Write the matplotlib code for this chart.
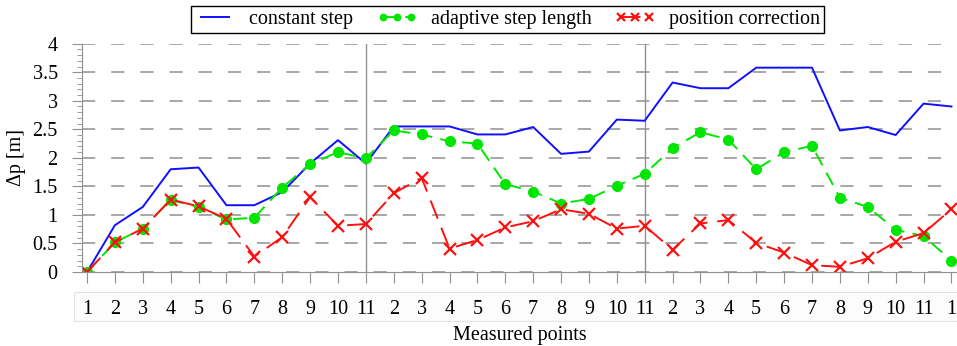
import matplotlib.pyplot as plt
import numpy as np
from matplotlib.patches import Rectangle
from matplotlib.ticker import MultipleLocator

point_labels = ([str(i) for i in range(1, 12)] + [str(i) for i in range(2, 12)]
                + [str(i) for i in range(2, 12)] + ["1"])

constant_step = [0.0, 0.82, 1.14, 1.80, 1.83, 1.17, 1.17, 1.40, 1.90, 2.31, 1.90,
                 2.55, 2.55, 2.55, 2.41, 2.41, 2.54, 2.07, 2.11, 2.67, 2.65,
                 3.32, 3.22, 3.22, 3.58, 3.58, 3.58, 2.48, 2.54, 2.40, 2.95, 2.90]

adaptive_step = [0.0, 0.52, 0.76, 1.26, 1.14, 0.92, 0.95, 1.48, 1.89, 2.10, 1.99,
                 2.48, 2.41, 2.29, 2.25, 1.54, 1.41, 1.20, 1.28, 1.51, 1.72,
                 2.17, 2.45, 2.32, 1.80, 2.10, 2.21, 1.30, 1.14, 0.74, 0.63, 0.20]

position_corr = [0.0, 0.52, 0.76, 1.27, 1.15, 0.93, 0.27, 0.61, 1.31, 0.81, 0.84,
                 1.38, 1.65, 0.41, 0.56, 0.78, 0.89, 1.10, 1.02, 0.76, 0.81,
                 0.39, 0.85, 0.91, 0.51, 0.34, 0.12, 0.09, 0.24, 0.53, 0.68, 1.10]

separators = [10, 20]

plt.rcParams["font.family"] = ["Liberation Serif", "DejaVu Serif"]
plt.rcParams["font.size"] = 14.5
plt.rcParams["lines.scale_dashes"] = False

x = np.arange(len(point_labels))

fig = plt.figure(figsize=(9.57, 3.46), dpi=100)
ax = fig.add_axes([0.0857, 0.2139, 0.9143, 0.6598])

ax.plot(x, constant_step, color="#1010ff", lw=1.4, label="constant step")
ax.plot(x, adaptive_step, color="#00e600", lw=1.4, linestyle=(0, (10, 6)),
        marker="o", ms=7, label="adaptive step length")
ax.plot(x, position_corr, color="#ff1010", lw=1.4, linestyle=(0, (14, 7)),
        marker="x", ms=8, mew=1.6, label="position correction")

for s in separators:
    ax.axvline(s, color="#909090", lw=1.0, zorder=1)

ax.set_xlim(-0.18, 31.2)
ax.set_ylim(0, 4)
ax.set_xticks(x)
ax.set_xticklabels(point_labels)
ax.set_yticks(np.arange(0, 4.01, 0.5))
ax.set_yticklabels(["0", "0.5", "1", "1.5", "2", "2.5", "3", "3.5", "4"])
ax.yaxis.set_minor_locator(MultipleLocator(0.1))

ax.yaxis.grid(True, color="#a0a0a0", lw=1.3, linestyle=(0, (9.5, 11.5)))
ax.set_axisbelow(True)

for side in ["top", "right"]:
    ax.spines[side].set_visible(False)
ax.spines["left"].set_color("#909090")
ax.spines["bottom"].set_color("#909090")

ax.tick_params(axis="y", which="major", direction="out", length=7.5,
               color="#909090", pad=10)
ax.tick_params(axis="y", which="minor", direction="out", length=3.5,
               color="#909090")
ax.tick_params(axis="x", direction="out", length=8, color="#909090", pad=12)

ax.set_xlabel("Measured points", labelpad=5)
ax.set_ylabel("Δp [m]", labelpad=5)

fig.patches.append(Rectangle((0.0773, 0.0722), 0.9227, 0.0838,
                             transform=fig.transFigure, facecolor="#fcfcfc",
                             edgecolor="#e4e4e4", lw=0.8, zorder=-1))

leg = ax.legend(loc="center", bbox_to_anchor=(0.5305, 0.944),
                bbox_transform=fig.transFigure, ncol=3, fancybox=False,
                edgecolor="black", framealpha=1, numpoints=3, markerscale=0.65,
                handlelength=2.0, handletextpad=0.7, columnspacing=1.15,
                borderpad=0.2)
leg.get_frame().set_linewidth(1.0)

fig.savefig("out.png", dpi=100)
